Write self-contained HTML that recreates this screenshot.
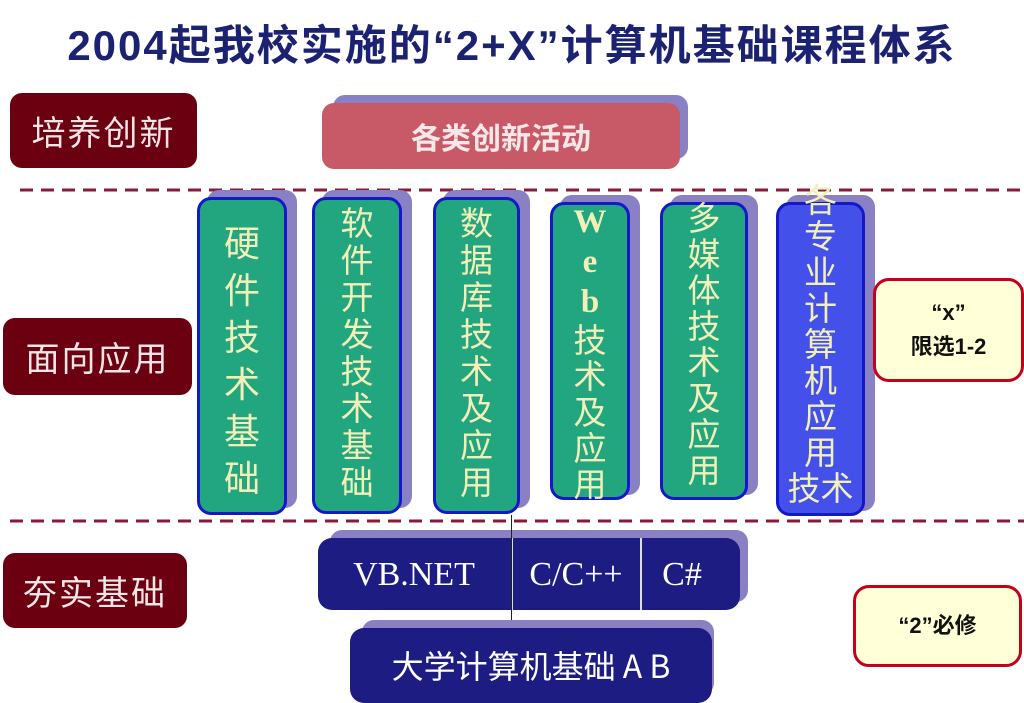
<!DOCTYPE html>
<html><head><meta charset="utf-8"><style>
body{margin:0;width:1024px;height:695px;background:#fff;position:relative;overflow:hidden;font-family:"Liberation Sans","Noto Sans CJK SC",sans-serif}
.a{position:absolute;box-sizing:border-box}
.lab{background:#6a0010;border-radius:12px;color:#f4e6e6;font-size:34px;display:flex;align-items:center;justify-content:center;letter-spacing:2px}
.sh{background:#8a80c4;border-radius:12px}
.col{background:#22a67f;border:3px solid #1418c8;border-radius:14px}
.tx{position:absolute;color:#f2f0b8;font-size:33px;text-align:center;font-family:"Noto Sans CJK SC",sans-serif;line-height:37px}
.note{background:#ffffd8;border:3px solid #c4001c;border-radius:16px;color:#111;font-weight:bold;font-size:22px;display:flex;align-items:center;justify-content:center;text-align:center;line-height:34px}
.nv{background:#1c1c82;border-radius:14px;color:#fff;font-family:"Liberation Serif","Noto Serif CJK SC",serif;font-size:34px}
</style></head><body>
<div class="a" style="left:0;top:12px;width:1024px;text-align:center;font-size:42px;font-weight:bold;color:#1c2272;white-space:nowrap;letter-spacing:2px">2004起我校实施的“2+X”计算机基础课程体系</div>
<div class="a lab" style="left:10px;top:93px;width:187px;height:75px">培养创新</div>
<div class="a lab" style="left:3px;top:318px;width:189px;height:77px">面向应用</div>
<div class="a lab" style="left:3px;top:553px;width:184px;height:75px">夯实基础</div>
<div class="a sh" style="left:333px;top:95px;width:355px;height:64px"></div>
<div class="a" style="left:322px;top:103px;width:358px;height:66px;background:#c85a68;border-radius:12px;color:#f6e8e8;font-size:30px;font-weight:bold;display:flex;align-items:center;justify-content:center">各类创新活动</div>
<svg class="a" style="left:0;top:0" width="1024" height="695">
<line x1="20" y1="190" x2="1024" y2="190" stroke="#8a1a38" stroke-width="3" stroke-dasharray="13,8"/>
<line x1="10" y1="521" x2="1024" y2="521" stroke="#8a1a38" stroke-width="3" stroke-dasharray="13,8"/>
</svg>

<div class="a sh" style="left:207px;top:190px;width:90px;height:318px"></div>
<div class="a col" style="left:197px;top:197px;width:90px;height:318px"></div>
<div class="tx" style="left:197px;top:218px;width:90px;font-size:36px;line-height:47px">硬<br>件<br>技<br>术<br>基<br>础</div>
<div class="a sh" style="left:322px;top:190px;width:90px;height:318px"></div>
<div class="a col" style="left:312px;top:197px;width:90px;height:317px"></div>
<div class="tx" style="left:312px;top:203px;width:90px">软<br>件<br>开<br>发<br>技<br>术<br>基<br>础</div>
<div class="a sh" style="left:443px;top:190px;width:87px;height:318px"></div>
<div class="a col" style="left:433px;top:197px;width:87px;height:317px"></div>
<div class="tx" style="left:433px;top:203px;width:87px">数<br>据<br>库<br>技<br>术<br>及<br>应<br>用</div>
<div class="a sh" style="left:560px;top:195px;width:80px;height:300px"></div>
<div class="a col" style="left:550px;top:202px;width:80px;height:298px"></div>
<div class="tx" style="left:550px;top:200px;width:80px;line-height:36px"><span style="font-family:'Liberation Serif',serif;font-weight:bold">W<br>e<br>b</span><br>技<br>术<br>及<br>应<br>用</div>
<div class="a sh" style="left:670px;top:195px;width:88px;height:300px"></div>
<div class="a col" style="left:660px;top:202px;width:88px;height:298px"></div>
<div class="tx" style="left:660px;top:198px;width:88px;line-height:36px">多<br>媒<br>体<br>技<br>术<br>及<br>应<br>用</div>
<div class="a sh" style="left:786px;top:195px;width:89px;height:316px"></div>
<div class="a col" style="left:776px;top:202px;width:89px;height:314px;background:#4450ea"></div>
<div class="tx" style="left:770px;top:180px;width:101px;line-height:36px">各<br>专<br>业<br>计<br>算<br>机<br>应<br>用<br>技术</div>

<div class="a note" style="left:873px;top:278px;width:151px;height:104px">“x”<br>限选1-2</div>
<div class="a note" style="left:853px;top:585px;width:169px;height:82px">“2”必修</div>

<div class="a sh" style="left:330px;top:530px;width:418px;height:72px"></div>
<div class="a nv" style="left:318px;top:538px;width:422px;height:72px"></div>
<div class="a" style="left:318px;top:556px;width:192px;text-align:center;color:#fff;font-family:'Liberation Serif',serif;font-size:34px">VB.NET</div>
<div class="a" style="left:514px;top:556px;width:124px;text-align:center;color:#fff;font-family:'Liberation Serif',serif;font-size:34px">C/C++</div>
<div class="a" style="left:642px;top:556px;width:80px;text-align:center;color:#fff;font-family:'Liberation Serif',serif;font-size:34px">C#</div>
<div class="a" style="left:511px;top:538px;width:2px;height:72px;background:#ddd"></div>
<div class="a" style="left:640px;top:538px;width:2px;height:72px;background:#ddd"></div>
<div class="a" style="left:511px;top:515px;width:1px;height:110px;background:#222"></div>
<div class="a sh" style="left:362px;top:620px;width:352px;height:75px"></div>
<div class="a nv" style="left:350px;top:628px;width:362px;height:75px;display:flex;align-items:flex-start;justify-content:center;padding-top:14px;font-size:32px;font-family:'Noto Sans CJK SC','Liberation Serif',serif">大学计算机基础 A B</div>
</body></html>
